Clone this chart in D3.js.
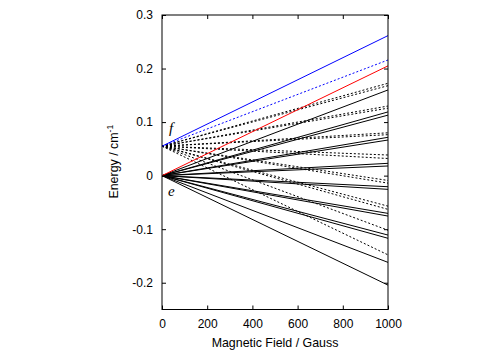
<!DOCTYPE html>
<html>
<head>
<meta charset="utf-8">
<script src="https://cdn.jsdelivr.net/npm/d3@7"></script>
<style>
  body { margin: 0; background: #fff; }
  text { font-family: "Liberation Sans", Arial, sans-serif; }
</style>
</head>
<body>
<div id="chart"></div>
<script>
// field values (Gauss) where each level is given
const field = [0, 1000];
// zero-field energies of the two parity levels
const eZero = 0, fZero = 0.055;
// energies at 1000 G, e levels (solid black)
const eEnds = [0.160, 0.119, 0.113, 0.0716, 0.0665, 0.023, 0.018, -0.0207, -0.0256,
               -0.0705, -0.0755, -0.111, -0.117, -0.162, -0.2045];
// energies at 1000 G, f levels (dotted black)
const fEnds = [0.1725, 0.168, 0.130, 0.126, 0.080, 0.0765, 0.0385, 0.032, -0.009, -0.014,
               -0.057, -0.063, -0.102, -0.148];
// highlighted levels
const blueSolid = [0.055, 0.2615];
const blueDotted = [0.055, 0.216];
const redSolid = [0, 0.205];
const xTicks = [0, 200, 400, 600, 800, 1000];
const yTicks = [-0.2, -0.1, 0, 0.1, 0.2, 0.3];

const svgWidth = 500, svgHeight = 350,
  margin = { top: 15, right: 112, bottom: 40.5, left: 162 },
  width = svgWidth - margin.left - margin.right,
  height = svgHeight - margin.top - margin.bottom;

let svgRoot = d3.select("#chart").append("svg")
  .attr("width", svgWidth)
  .attr("height", svgHeight);
let svg = svgRoot.append("g")
  .attr("transform", "translate(" + margin.left + "," + margin.top + ")");

let x = d3.scaleLinear().domain([0, 1000]).range([0, width]);
let y = d3.scaleLinear().domain([-0.25, 0.3]).range([height, 0]);

let line = d3.line()
  .x((d, i) => x(field[i]))
  .y(d => y(d));

// build the list of curves
let curves = [];
eEnds.forEach(v => curves.push({ vals: [eZero, v], color: "#000", dash: null }));
fEnds.forEach(v => curves.push({ vals: [fZero, v], color: "#000", dash: "2,2" }));
curves.push({ vals: blueDotted, color: "#0000ff", dash: "2,2" });
curves.push({ vals: redSolid, color: "#ff0000", dash: null });
curves.push({ vals: blueSolid, color: "#0000ff", dash: null });

svg.append("defs").append("clipPath").attr("id", "clip")
  .append("rect").attr("width", width).attr("height", height);

svg.append("g").attr("clip-path", "url(#clip)")
  .selectAll("path")
  .data(curves)
  .join("path")
  .attr("d", d => line(d.vals))
  .attr("fill", "none")
  .attr("stroke", d => d.color)
  .attr("stroke-width", 1)
  .attr("stroke-dasharray", d => d.dash);

// axes, ticks pointing inward on all sides
let xAxis = svg.append("g")
  .attr("transform", `translate(0, ${height})`)
  .call(d3.axisBottom(x).tickValues(xTicks).tickSize(-4).tickPadding(10).tickFormat(d => String(d)));
let xAxisTop = svg.append("g")
  .call(d3.axisTop(x).tickValues(xTicks).tickSize(-4).tickFormat(""));
let yAxis = svg.append("g")
  .call(d3.axisLeft(y).tickValues(yTicks).tickSize(-4).tickPadding(9)
    .tickFormat(d => Math.abs(d) < 1e-9 ? "0" : d.toFixed(1)));
let yAxisRight = svg.append("g")
  .attr("transform", `translate(${width}, 0)`)
  .call(d3.axisRight(y).tickValues(yTicks).tickSize(-4).tickFormat(""));

[xAxis, xAxisTop, yAxis, yAxisRight].forEach(a => {
  a.select(".domain").remove();
  a.selectAll("line").attr("stroke", "#000");
  a.selectAll("text").attr("font-size", 12).attr("fill", "#000")
    .style("font-family", "'Liberation Sans', Arial, sans-serif");
});

// frame
svg.append("rect")
  .attr("width", width)
  .attr("height", height)
  .attr("fill", "none")
  .attr("stroke", "#000")
  .attr("stroke-width", 1);

// axis labels
svg.append("text")
  .attr("x", width / 2)
  .attr("y", height + 37)
  .attr("text-anchor", "middle")
  .attr("font-size", 12.4)
  .text("Magnetic Field / Gauss");

let yLab = svg.append("text")
  .attr("transform", `translate(-44, ${y(0.026)}) rotate(-90)`)
  .attr("text-anchor", "middle")
  .attr("font-size", 12.4);
yLab.append("tspan").text("Energy / cm");
yLab.append("tspan").attr("font-size", 8.5).attr("dy", -5).text("-1");

// parity labels
svg.append("text")
  .attr("x", 7)
  .attr("y", y(0.08))
  .attr("font-size", 15)
  .attr("font-style", "italic")
  .style("font-family", "'Liberation Serif', 'Times New Roman', serif")
  .text("f");
svg.append("text")
  .attr("x", 6)
  .attr("y", y(-0.038))
  .attr("font-size", 15)
  .attr("font-style", "italic")
  .style("font-family", "'Liberation Serif', 'Times New Roman', serif")
  .text("e");
</script>
</body>
</html>
